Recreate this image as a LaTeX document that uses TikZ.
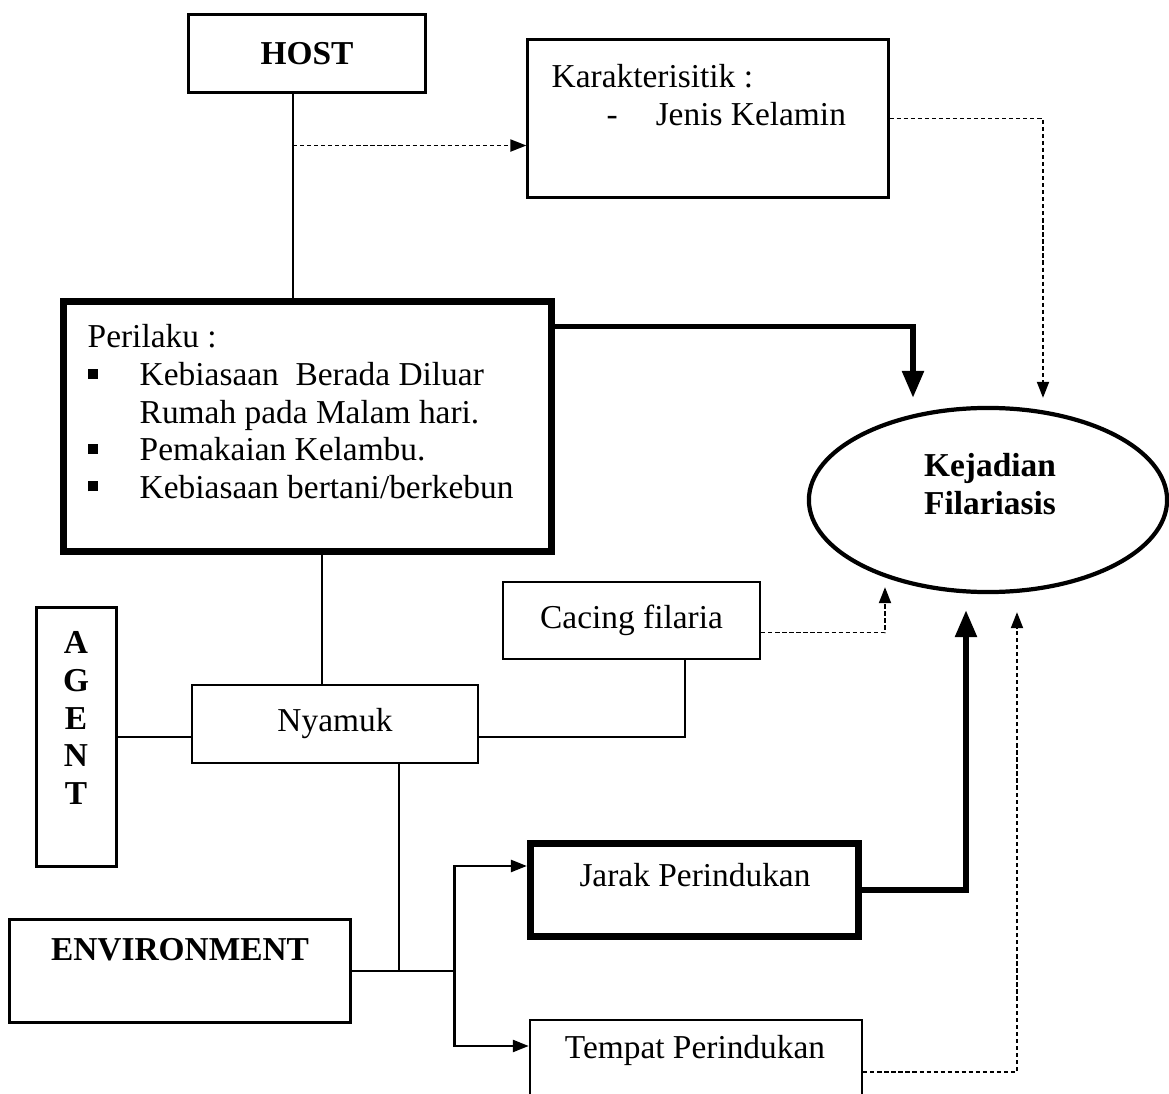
\documentclass[tikz,border=0pt]{standalone}
\usepackage{fontspec}
\setmainfont{Liberation Serif}
\usepackage{tikz}
\usetikzlibrary{shapes.geometric, arrows.meta, calc}
\newcommand{\sqbul}{\makebox[0.52cm][l]{\rule[0.07cm]{0.1cm}{0.1cm}}}

\begin{document}
\begin{tikzpicture}[x=0.01cm, y=-0.01cm,
  box/.style={rectangle, draw, line width=0.85pt, inner sep=0pt, font=\fontsize{9.5}{10.7}\selectfont},
  lightbox/.style={box, line width=0.65pt},
  heavybox/.style={box, line width=2pt},
  txt/.style={inner sep=0pt, font=\fontsize{9.5}{10.7}\selectfont},
  hd/.style={inner sep=0pt, font=\fontsize{9.5}{10.7}\selectfont\bfseries},
  link/.style={line width=0.7pt},
  dotarrow/.style={line width=0.55pt, dash pattern=on 1.2pt off 0.8pt, -{Triangle[length=0.16cm, width=0.12cm]}},
  thinarrow/.style={line width=0.7pt, -{Triangle[length=0.16cm, width=0.12cm]}},
  heavyarrow/.style={line width=1.6pt, -{Triangle[length=0.27cm, width=0.21cm]}}
]
  \useasboundingbox (0,0) rectangle (1169,1094);

  % host side
  \node[box, minimum width=2.36cm, minimum height=0.77cm, font=\fontsize{9.5}{10.7}\selectfont\bfseries] (host) at (307,53.5) {HOST};
  \node[box, minimum width=3.60cm, minimum height=1.57cm] (karak) at (708,118.5) {};
  \node[txt, anchor=north west, align=left] (karaktxt) at (551,64)
    {Karakterisitik :\\\hspace*{0.55cm}\makebox[0.49cm][l]{-}Jenis Kelamin};
  \node[heavybox, minimum width=4.88cm, minimum height=2.50cm] (perilaku) at (307.5,426.5) {};
  \node[txt, anchor=north west, align=left] (perilakutxt) at (87,324)
    {Perilaku :\\
     \sqbul Kebiasaan\ \ Berada Diluar\\
     \hspace*{0.52cm}Rumah pada Malam hari.\\
     \sqbul Pemakaian Kelambu.\\
     \sqbul Kebiasaan bertani/berkebun};

  % outcome
  \node[ellipse, draw, line width=1.2pt, minimum width=3.58cm, minimum height=1.84cm] (ell) at (988,500) {};
  \node[hd, align=center] (elltxt) at (990,484) {Kejadian\\Filariasis};

  % agent side
  \node[box, minimum width=0.79cm, minimum height=2.58cm] (agent) at (76.5,737) {};
  \node[hd, align=center] (agenttxt) at (76,718) {A\\G\\E\\N\\T};
  \node[lightbox, minimum width=2.86cm, minimum height=0.78cm] (nyamuk) at (335,724) {Nyamuk};
  \node[lightbox, minimum width=2.57cm, minimum height=0.77cm] (cacing) at (631.5,620.5) {Cacing filaria};

  % environment side
  \node[box, minimum width=3.40cm, minimum height=1.02cm] (env) at (180,971) {};
  \node[hd] (envtxt) at (180,950) {ENVIRONMENT};
  \node[heavybox, minimum width=3.28cm, minimum height=0.93cm] (jarak) at (694.5,890) {};
  \node[txt] (jaraktxt) at (695,875) {Jarak Perindukan};
  \node[lightbox, minimum width=3.32cm, minimum height=0.80cm] (tempat) at (696,1060) {};
  \node[txt] (tempattxt) at (695,1050) {Tempat Perindukan};

  \coordinate (hostdrop) at ([xshift=-0.14cm]host.south);
  \coordinate (karakin) at ([yshift=-0.27cm]karak.west);
  \coordinate (nyin) at ([xshift=-0.13cm]nyamuk.north);
  \coordinate (nyout) at ([xshift=0.64cm]nyamuk.south);
  \coordinate (fork) at ($(env.east)+(103,0)$);

  \draw[link] (hostdrop) -- (hostdrop |- perilaku.north);
  \draw[dotarrow] (hostdrop |- karakin) -- (karakin);
  \draw[dotarrow] (karak.east) -| ($(ell.north)+(55,-8)$);
  \draw[heavyarrow] ([yshift=1.0cm]perilaku.east) -| ($(ell.north)+(-75,-8)$);
  \draw[link] (nyin |- perilaku.south) -- (nyin);
  \draw[link] (agent.east) -- (agent.east -| nyamuk.west);
  \draw[link] (agent.east -| nyamuk.east) -| ([xshift=0.535cm]cacing.south);
  \draw[dotarrow] ([yshift=-0.12cm]cacing.east) -| ($(ell.south)+(-103,-7)$);
  \draw[link] (nyout) -- (nyout |- env.east);
  \draw[link] (env.east) -- (fork);
  \draw[thinarrow] (fork) |- ([yshift=0.24cm]jarak.west);
  \draw[thinarrow] (fork) |- ([yshift=0.14cm]tempat.west);
  \draw[heavyarrow] (jarak.east) -| ($(ell.south)+(-22,16)$);
  \draw[dotarrow] ([yshift=-0.12cm]tempat.east) -| ($(ell.south)+(29,18)$);
\end{tikzpicture}
\end{document}
